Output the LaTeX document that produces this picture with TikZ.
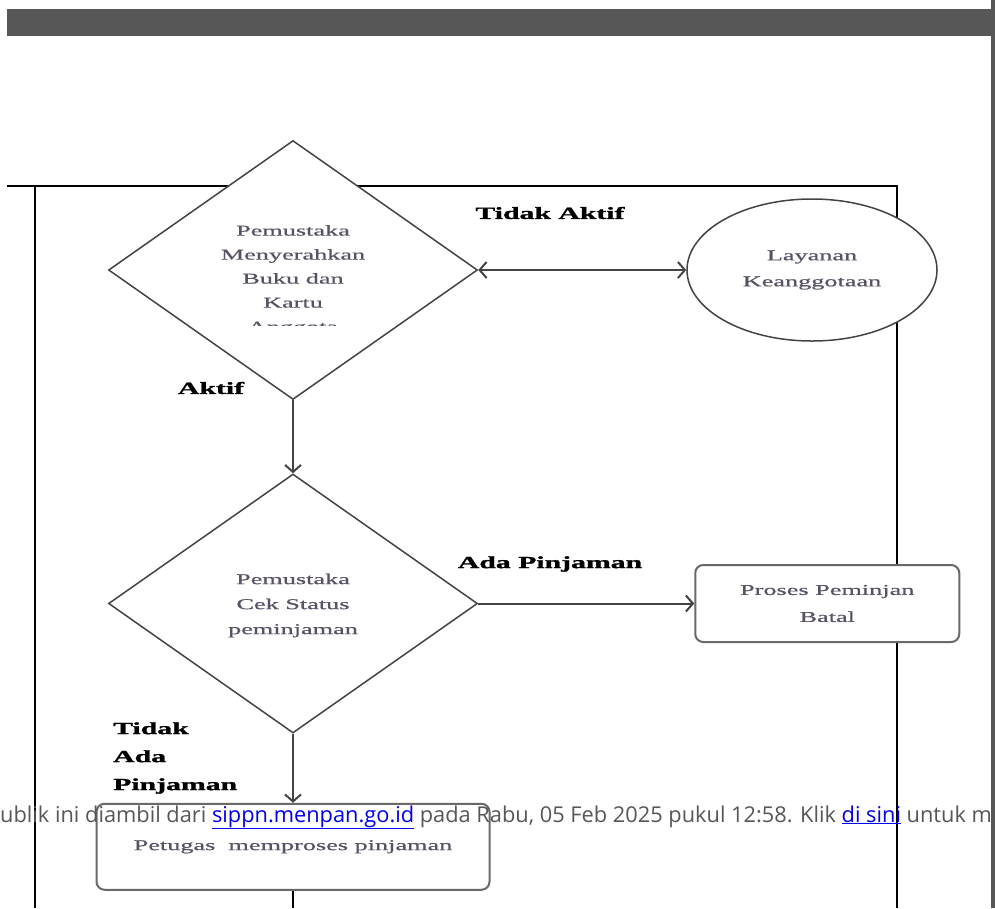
\documentclass[tikz,border=0pt]{standalone}
\usepackage{fontspec}
\setmainfont{Liberation Serif}
\newfontfamily\flowfont{Liberation Serif}[FakeStretch=1.75,FakeBold=0.6]
\newfontfamily\tagfont{Liberation Serif}[FakeStretch=1.75,FakeBold=1.5]
\newfontfamily\notefont{Open Sans}
\usetikzlibrary{arrows.meta,positioning,shapes.geometric}
\definecolor{bargray}{RGB}{87,87,87}
\definecolor{linegray}{RGB}{68,68,68}
\definecolor{textgray}{RGB}{88,82,100}
\definecolor{linkblue}{RGB}{0,0,238}

\begin{document}
\begin{tikzpicture}[x=1pt,y=-1pt,
  every node/.style={align=center},
  decision/.style={diamond,draw=linegray,line width=1.5pt,fill=white,aspect=1.42,minimum width=369pt,minimum height=259pt,inner sep=0pt},
  member/.style={ellipse,draw=linegray,line width=1.5pt,fill=white,minimum width=250pt,minimum height=142pt,font=\flowfont\fontsize{15}{26}\selectfont,text=textgray},
  action/.style={draw=linegray!80,line width=2pt,rounded corners=8pt,fill=white,font=\flowfont\fontsize{15}{27}\selectfont,text=textgray},
  flowtext/.style={font=\flowfont\fontsize{15}{24}\selectfont,text=textgray,inner sep=0pt},
  tag/.style={font=\tagfont\bfseries\fontsize{17}{28}\selectfont,inner sep=0pt},
  frame/.style={line width=2.5pt,draw=black},
  link/.style={-{Straight Barb[length=7pt,width=16pt]},line width=2pt,draw=linegray},
  twoway/.style={{Straight Barb[length=7pt,width=16pt]}-{Straight Barb[length=7pt,width=16pt]},line width=2pt,draw=linegray}
]
\useasboundingbox[fill=white] (0,0) rectangle (995,908);
% page chrome
\fill[bargray] (7,9) rectangle (995,36);
\fill[bargray] (991,0) rectangle (995,908);
\draw[frame] (7,186) -- (897,186) -- (897,908);
\draw[frame] (35,186) -- (35,908);

% flow
\node[decision] (cekanggota) at (293,270) {};
\begin{scope}
  \clip (0,0) rectangle (995,325);
  \node[flowtext] (cekanggotatext) at ([yshift=-10pt]cekanggota.center) {Pemustaka\\Menyerahkan\\Buku dan\\Kartu\\Anggota};
\end{scope}
\node[member,right=208pt of cekanggota] (keanggotaan) {Layanan\\Keanggotaan};
\node[decision,below=73pt of cekanggota] (cekstatus) {};
\node[flowtext,font=\flowfont\fontsize{15}{25}\selectfont] (cekstatustext) at ([yshift=-2pt]cekstatus.center) {Pemustaka\\Cek Status\\peminjaman};
\node[action,minimum width=264pt,minimum height=77pt,right=216pt of cekstatus] (batal) {Proses Peminjan\\Batal};
\node[action,minimum width=393pt,minimum height=86pt,below=69pt of cekstatus] (proses) {Petugas~~memproses pinjaman};
\coordinate (bottom) at (0,908);

\draw[twoway] (cekanggota.east) -- (keanggotaan.west);
\draw[link] (cekanggota.south) -- (cekstatus.north);
\draw[link] (cekstatus.east) -- (batal.west);
\draw[link] (cekstatus.south) -- (proses.north);
\draw[frame] (proses.south) -- (proses.south |- bottom);

% labels
\node[tag] (tidakaktif) at (550,213) {Tidak Aktif};
\node[tag] (aktif) at (211,388) {Aktif};
\node[tag] (adapinjaman) at (550,564) {Ada Pinjaman};
\node[tag,align=left,anchor=west] (tidakada) at (113,758) {Tidak\\Ada\\Pinjaman};

% page note over the picture
\begin{scope}
  \clip (0,0) rectangle (990,908);
  \node[font=\notefont\fontsize{21.8}{24}\selectfont,text=bargray,anchor=base west,inner sep=0pt] (note) at (0,822) {ublik ini diambil dari \textcolor{linkblue}{\underline{sippn.menpan.go.id}} pada Rabu, 05 Feb 2025 pukul 12:58. Klik \textcolor{linkblue}{\underline{di sini}} untuk m};
\end{scope}
\end{tikzpicture}
\end{document}
